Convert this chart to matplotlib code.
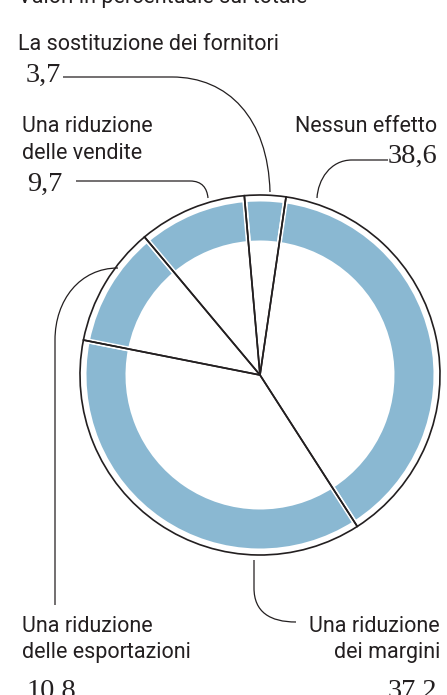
import matplotlib
matplotlib.use("Agg")
import matplotlib.pyplot as plt
from matplotlib.path import Path
from matplotlib.patches import PathPatch
from matplotlib import font_manager

categories = ["La sostituzione dei fornitori", "Nessun effetto", "Una riduzione\ndei margini",
              "Una riduzione\ndelle esportazioni", "Una riduzione\ndelle vendite"]
values = [3.7, 38.6, 37.2, 10.8, 9.7]
value_labels = ["3,7", "38,6", "37,2", "10,8", "9,7"]
subtitle = "Valori in percentuale sul totale"

W, H = 447, 695
fig = plt.figure(figsize=(W / 100, H / 100), dpi=100)
ax = fig.add_axes([0, 0, 1, 1])

names = {f.name for f in font_manager.fontManager.ttflist}
sans = ["Liberation Sans Narrow", "DejaVu Sans"] if "Liberation Sans Narrow" in names else ["Roboto", "DejaVu Sans"]
serif = ["Liberation Serif", "DejaVu Serif"]
TXT = "#231f20"
BLUE = "#8ab8d2"

def Y(y):
    return H - y

cx, cy = 260, Y(375)

# blue ring
ax.pie(values, startangle=95, counterclock=False, radius=176, center=(cx, cy),
       colors=[BLUE] * len(values),
       wedgeprops=dict(width=44, edgecolor="white", linewidth=3.6))
# outline + separators
ax.pie(values, startangle=95, counterclock=False, radius=180, center=(cx, cy),
       colors=["none"] * len(values),
       wedgeprops=dict(edgecolor=TXT, linewidth=1.2))

ax.set_xlim(0, W)
ax.set_ylim(0, H)
ax.set_aspect("equal")
ax.axis("off")

def curve(pts, codes):
    p = Path([(x, Y(y)) for x, y in pts], codes)
    ax.add_patch(PathPatch(p, facecolor="none", edgecolor=TXT, linewidth=0.9))

M, L, C = Path.MOVETO, Path.LINETO, Path.CURVE4

# leaders
curve([(63, 77), (172, 77), (228, 77), (268, 118), (270, 192)], [M, L, C, C, C])
curve([(76, 181), (190, 181), (202, 181), (207, 188), (208, 198)], [M, L, C, C, C])
curve([(388, 160), (352, 160), (330, 160), (318, 180), (317, 198)], [M, L, C, C, C])
curve([(118, 268), (80, 268), (55, 300), (55, 340), (55, 605)], [M, C, C, C, L])
curve([(254, 560), (254, 588), (254, 612), (270, 622), (296, 622)], [M, L, C, C, C])

fs_lab = 15.5
fs_num = 20.5
ax.text(18, Y(3), subtitle, fontsize=fs_lab, family=sans, color=TXT, va="baseline", ha="left")

ax.text(18, Y(50), categories[0], fontsize=fs_lab, family=sans, color=TXT, va="baseline")
ax.text(26, Y(82), value_labels[0], fontsize=fs_num, family=serif, color=TXT, va="baseline")

ax.text(437, Y(132), categories[1], fontsize=fs_lab, family=sans, color=TXT, va="baseline", ha="right")
ax.text(437, Y(163), value_labels[1], fontsize=fs_num, family=serif, color=TXT, va="baseline", ha="right")

l1, l2 = categories[2].split("\n")
ax.text(440, Y(632), l1, fontsize=fs_lab, family=sans, color=TXT, va="baseline", ha="right")
ax.text(440, Y(658), l2, fontsize=fs_lab, family=sans, color=TXT, va="baseline", ha="right")
ax.text(437, Y(698), value_labels[2], fontsize=fs_num, family=serif, color=TXT, va="baseline", ha="right")

l1, l2 = categories[3].split("\n")
ax.text(22, Y(632), l1, fontsize=fs_lab, family=sans, color=TXT, va="baseline")
ax.text(22, Y(658), l2, fontsize=fs_lab, family=sans, color=TXT, va="baseline")
ax.text(27, Y(698), value_labels[3], fontsize=fs_num, family=serif, color=TXT, va="baseline")

l1, l2 = categories[4].split("\n")
ax.text(22, Y(132), l1, fontsize=fs_lab, family=sans, color=TXT, va="baseline")
ax.text(22, Y(159), l2, fontsize=fs_lab, family=sans, color=TXT, va="baseline")
ax.text(27, Y(191), value_labels[4], fontsize=fs_num, family=serif, color=TXT, va="baseline")

fig.savefig("out.png", dpi=100, facecolor="white")
